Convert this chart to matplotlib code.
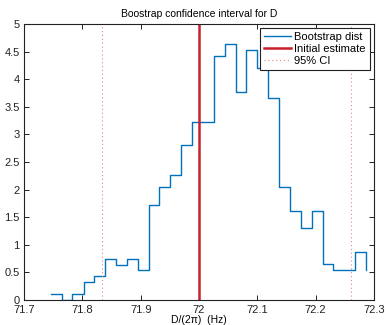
import numpy as np
import matplotlib.pyplot as plt

plt.rcParams["font.family"] = ["Liberation Sans", "DejaVu Sans"]

# bootstrap histogram (bin left edges and density)
bin_x = [71.746, 71.765, 71.783, 71.802, 71.820, 71.839, 71.858, 71.876,
         71.895, 71.914, 71.932, 71.951, 71.969, 71.988, 72.007, 72.025,
         72.044, 72.063, 72.081, 72.100, 72.118, 72.137, 72.156, 72.174,
         72.193, 72.212, 72.230, 72.249, 72.267, 72.286]
density = [0.11, 0.0, 0.11, 0.32, 0.43, 0.75, 0.64, 0.75, 0.54, 1.72,
           2.04, 2.26, 2.80, 3.23, 3.23, 4.42, 4.63, 3.77, 4.52, 4.20,
           3.66, 2.05, 1.62, 1.30, 1.62, 0.65, 0.55, 0.55, 0.87, 0.55]
estimate = 72.0
ci = [71.833, 72.261]

fig = plt.figure(figsize=(3.86, 3.25), dpi=100)
ax = fig.add_axes([0.0622, 0.0769, 0.9068, 0.8493])

ax.step(bin_x, density, where="post", color="#0072BD", lw=1.0, label="Bootstrap dist")
ax.axvline(estimate, color="#C8202C", lw=1.8, label="Initial estimate")
ax.axvline(ci[0], color="#F08080", lw=0.8, ls=(0, (1, 2.5)), label="95% CI")
ax.axvline(ci[1], color="#F08080", lw=0.8, ls=(0, (1, 2.5)))

ax.set_xlim(71.7, 72.3)
ax.set_ylim(0, 5)
ax.set_xticks(np.arange(71.7, 72.31, 0.1))
ax.set_xticklabels(["71.7", "71.8", "71.9", "72", "72.1", "72.2", "72.3"])
ax.set_yticks(np.arange(0, 5.01, 0.5))
ax.set_yticklabels(["0", "0.5", "1", "1.5", "2", "2.5", "3", "3.5", "4", "4.5", "5"])
ax.tick_params(direction="in", length=3.5, width=0.7, labelsize=8,
               top=True, right=True, colors="#222222")
ax.tick_params(axis="x", pad=3.5)
ax.tick_params(axis="y", pad=3)
for s in ax.spines.values():
    s.set_linewidth(0.8)
    s.set_color("#222222")

ax.set_title("Boostrap confidence interval for D", fontsize=7.5, pad=5)
ax.set_xlabel("D/(2\u03c0)  (Hz)", fontsize=7.5, labelpad=0)

leg = ax.legend(loc="upper right", fontsize=8, fancybox=False, framealpha=1,
                edgecolor="#222222", handlelength=2.5, handletextpad=0.25,
                borderpad=0.35, labelspacing=0.15, borderaxespad=0.4)
leg.get_frame().set_linewidth(0.8)

fig.savefig("out.png", dpi=100)
